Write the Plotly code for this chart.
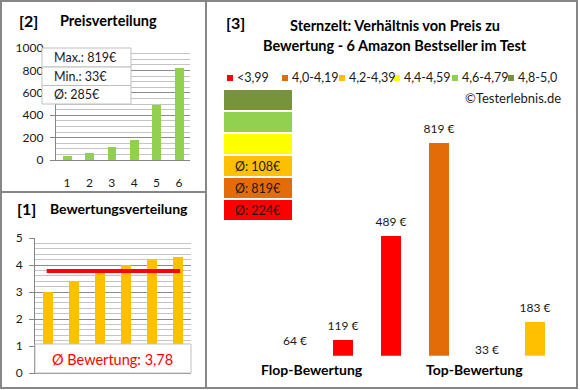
import plotly.graph_objects as go
from decimal import Decimal, ROUND_HALF_UP

# ---------------- data ----------------
ratings = [3.0, 3.4, 3.75, 4.0, 4.2, 4.3]          # products sorted by rating (flop -> top)
prices_by_rating = [64, 119, 489, 819, 33, 183]    # price of each product in that order
product_numbers = [1, 2, 3, 4, 5, 6]
rating_bins = ["<3,99", "4,0-4,19", "4,2-4,39", "4,4-4,59", "4,6-4,79", "4,8-5,0"]
bin_lower = [0.0, 4.0, 4.2, 4.4, 4.6, 4.8]
bin_colors = ["#FF0000", "#E36C09", "#FFC000", "#FFFF00", "#92D050", "#77933C"]
group_labels = ["Flop-Bewertung", "Top-Bewertung"]
price_ticks = [0, 200, 400, 600, 800, 1000]
rating_ticks = [0, 1, 2, 3, 4, 5]

W, H = 580, 390
FONT = "Lato, 'Open Sans', sans-serif"
TXT = "#1a1a1a"
FRAME = "#868686"
GRID_MAJ = "#8c8c8c"
GRID_MIN = "#c4c4c4"


def px(x):
    return x / W


def py(y):
    return 1 - y / H


def rhalf(v, places=0):
    q = Decimal(1).scaleb(-places)
    return Decimal(str(round(v, 6))).quantize(q, rounding=ROUND_HALF_UP)


def bin_index(r):
    idx = 0
    for i, lo in enumerate(bin_lower):
        if r >= lo:
            idx = i
    return idx


prices_sorted = sorted(prices_by_rating)
avg_rating = sum(ratings) / len(ratings)
bar_colors = [bin_colors[bin_index(r)] for r in ratings]
group_avgs = {}
for r, p in zip(ratings, prices_by_rating):
    group_avgs.setdefault(bin_index(r), []).append(p)

# panel 3 price scale (pixels)
P3_MIN, P3_MAX = 64, 1000
P3_BOT, P3_TOP = 355.7, 91.9
scale = (P3_BOT - P3_TOP) / (P3_MAX - P3_MIN)
LBL_BOT = 385.0
LBL_MIN = P3_MIN - (LBL_BOT - P3_BOT) / scale

fig = go.Figure()

# ---------- panel [1] Bewertungsverteilung ----------
fig.add_trace(go.Bar(x=product_numbers, y=ratings, marker=dict(color="#FFC000", line=dict(width=0)),
                     width=0.38, xaxis="x", yaxis="y", showlegend=False))
fig.add_trace(go.Scatter(x=[product_numbers[0] - 0.05, product_numbers[-1] + 0.08],
                         y=[avg_rating, avg_rating], mode="lines",
                         line=dict(color="#FF0000", width=4),
                         xaxis="x", yaxis="y", showlegend=False))

# ---------- panel [2] Preisverteilung ----------
fig.add_trace(go.Bar(x=product_numbers, y=prices_sorted, marker=dict(color="#92D050", line=dict(width=0)),
                     width=0.4, xaxis="x2", yaxis="y2", showlegend=False))

# ---------- panel [3] Preis vs Bewertung ----------
idx = list(range(len(prices_by_rating)))
fig.add_trace(go.Bar(x=idx, y=prices_by_rating, marker=dict(color=bar_colors, line=dict(width=0)),
                     width=0.4, xaxis="x3", yaxis="y3", showlegend=False))
fig.add_trace(go.Scatter(x=idx, y=prices_by_rating, mode="markers+text",
                         text=[f"{p} €" for p in prices_by_rating],
                         textposition="top center",
                         textfont=dict(size=12, color=TXT, family=FONT),
                         marker=dict(size=10, opacity=0),
                         cliponaxis=False, xaxis="x3", yaxis="y4",
                         showlegend=False, hoverinfo="skip"))

axis_common = dict(showline=True, linecolor=FRAME, linewidth=1, zeroline=False, automargin=False,
                   tickfont=dict(size=12, color=TXT, family=FONT), fixedrange=True)

fig.update_layout(
    width=W, height=H, margin=dict(l=0, r=0, t=0, b=0, autoexpand=False),
    paper_bgcolor="white", plot_bgcolor="rgba(0,0,0,0)",
    font=dict(family=FONT, color=TXT),
    bargap=0, showlegend=False,
    xaxis=dict(domain=[px(35), px(191)], range=[0.5, 6.5], anchor="y", showticklabels=False,
               showgrid=False, ticks="", **axis_common),
    yaxis=dict(domain=[py(373), py(238)], range=[0, 5], anchor="x", tickvals=rating_ticks,
               showgrid=True, gridcolor=GRID_MAJ, gridwidth=1,
               minor=dict(dtick=0.2, showgrid=True, gridcolor=GRID_MIN, gridwidth=1),
               ticks="outside", ticklen=5, tickcolor=FRAME, ticklabelstandoff=4,
               **axis_common),
    xaxis2=dict(domain=[px(55.8), px(190.2)], range=[0.5, 6.5], anchor="y2", tickvals=product_numbers,
                showgrid=False, ticks="", ticklabelstandoff=12, **axis_common),
    yaxis2=dict(domain=[py(160), py(48)], range=[0, 1000], anchor="x2", tickvals=price_ticks,
                showgrid=True, gridcolor=GRID_MAJ, gridwidth=1,
                minor=dict(dtick=50, showgrid=True, gridcolor=GRID_MIN, gridwidth=1),
                ticks="outside", ticklen=5, tickcolor=FRAME, ticklabelstandoff=4,
                **axis_common),
    xaxis3=dict(domain=[px(271), px(559)], range=[-0.5, 5.5], anchor="y3", visible=False,
                fixedrange=True, automargin=False),
    yaxis3=dict(domain=[py(P3_BOT), py(P3_TOP)], range=[P3_MIN, P3_MAX], anchor="x3",
                visible=False, fixedrange=True, automargin=False),
    yaxis4=dict(domain=[py(LBL_BOT), py(P3_TOP)], range=[LBL_MIN, P3_MAX], anchor="x3",
                visible=False, fixedrange=True, automargin=False),
)

shapes = []
annotations = []

# frames
shapes.append(dict(type="rect", xref="paper", yref="paper", x0=px(1), x1=px(577),
                   y0=py(388), y1=py(1), line=dict(color=FRAME, width=2), layer="above"))
shapes.append(dict(type="line", xref="paper", yref="paper", x0=px(206), x1=px(206),
                   y0=py(388), y1=py(1), line=dict(color=FRAME, width=2), layer="above"))
shapes.append(dict(type="line", xref="paper", yref="paper", x0=px(1), x1=px(206),
                   y0=py(192), y1=py(192), line=dict(color=FRAME, width=2), layer="above"))


def title(x, y, text, size=13, bold=True, anchor="left", color="#000"):
    t = f"<b>{text}</b>" if bold else text
    annotations.append(dict(xref="paper", yref="paper", x=px(x), y=py(y), text=t,
                            showarrow=False, xanchor=anchor, yanchor="middle",
                            font=dict(size=size, color=color, family=FONT)))


title(17, 20, "[2]", size=16)
title(58, 20, "Preisverteilung", size=14.5)
title(15, 208, "[1]", size=16)
title(48, 208, "Bewertungsverteilung", size=14)
title(224, 22, "[3]", size=16)
title(395, 26, "Sternzelt: Verhältnis von Preis zu", size=14.5, anchor="center")
title(395, 45, "Bewertung - 6 Amazon Bestseller im Test", size=14.5, anchor="center")

# price summary box (panel 2)
box_rows = [f"Max.: {max(prices_sorted)}€", f"Min.: {min(prices_sorted)}€",
            f"Ø: {rhalf(sum(prices_sorted) / len(prices_sorted))}€"]
row_edges = [48, 67, 85.5, 104]
for i, txt in enumerate(box_rows):
    shapes.append(dict(type="rect", xref="paper", yref="paper", x0=px(42), x1=px(131),
                       y0=py(row_edges[i + 1]), y1=py(row_edges[i]),
                       fillcolor="white", line=dict(color="#bfbfbf", width=1), layer="above"))
    annotations.append(dict(xref="paper", yref="paper", x=px(52),
                            y=py((row_edges[i] + row_edges[i + 1]) / 2), text=txt,
                            showarrow=False, xanchor="left", yanchor="middle",
                            font=dict(size=12.5, color=TXT, family=FONT)))

# rating average box (panel 1)
shapes.append(dict(type="rect", xref="paper", yref="paper", x0=px(35), x1=px(191),
                   y0=py(373), y1=py(344), fillcolor="white",
                   line=dict(color="#bfbfbf", width=1), layer="above"))
annotations.append(dict(xref="paper", yref="paper", x=px(112), y=py(359),
                        text=f"Ø Bewertung: {rhalf(avg_rating, 2)}".replace(".", ","),
                        showarrow=False, xanchor="center", yanchor="middle",
                        font=dict(size=14.5, color="#FF0000", family=FONT)))

# legend row (panel 3)
legend_x = [227, 282, 339, 394, 452, 508]
for lx, lab, col in zip(legend_x, rating_bins, bin_colors):
    shapes.append(dict(type="rect", xref="paper", yref="paper", x0=px(lx), x1=px(lx + 6),
                       y0=py(81), y1=py(75), fillcolor=col, line=dict(width=0)))
    annotations.append(dict(xref="paper", yref="paper", x=px(lx + 8), y=py(78), text=lab,
                            showarrow=False, xanchor="left", yanchor="middle",
                            font=dict(size=12.5, color=TXT, family=FONT)))

title(563, 98, "©Testerlebnis.de", size=13, bold=False, anchor="right", color=TXT)

# stacked colour boxes with group averages
box_top = 90
for k, bi in enumerate(reversed(range(len(bin_colors)))):
    y0 = box_top + k * 22
    shapes.append(dict(type="rect", xref="paper", yref="paper", x0=px(224), x1=px(292),
                       y0=py(y0 + 20), y1=py(y0), fillcolor=bin_colors[bi], line=dict(width=0)))
    if bi in group_avgs:
        vals = group_avgs[bi]
        annotations.append(dict(xref="paper", yref="paper", x=px(233), y=py(y0 + 10.5),
                                text=f"Ø: {rhalf(sum(vals) / len(vals))}€", showarrow=False,
                                xanchor="left", yanchor="middle",
                                font=dict(size=12.5, color=TXT, family=FONT)))

# group labels under panel 3
title(312, 369, group_labels[0], size=14, anchor="center")
title(474, 369, group_labels[1], size=14, anchor="center")

fig.update_layout(shapes=shapes, annotations=annotations)
fig.write_html("out.html", config={"displayModeBar": False},
               post_script="document.body.style.margin='0';document.body.style.padding='0';")
